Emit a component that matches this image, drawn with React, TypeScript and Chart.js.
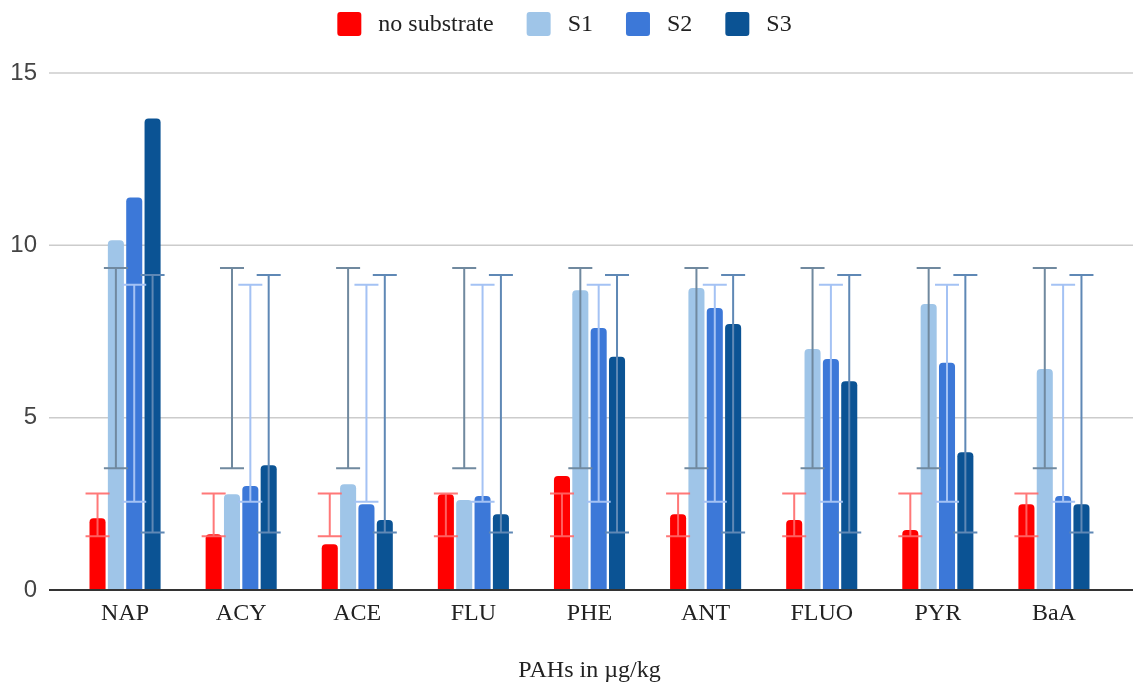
import React, { useEffect, useRef } from 'react';
import { Chart, registerables } from 'chart.js';

Chart.register(...registerables);

const categories = ['NAP', 'ACY', 'ACE', 'FLU', 'PHE', 'ANT', 'FLUO', 'PYR', 'BaA'];
const seriesLabels = ['no substrate', 'S1', 'S2', 'S3'];
const noSubstrate = [2.08, 1.62, 1.33, 2.78, 3.31, 2.2, 2.03, 1.74, 2.49];
const s1 = [10.15, 2.78, 3.07, 2.61, 8.7, 8.76, 6.99, 8.3, 6.41];
const s2 = [11.39, 3.02, 2.49, 2.73, 7.6, 8.18, 6.7, 6.59, 2.73];
const s3 = [13.68, 3.62, 2.03, 2.2, 6.77, 7.72, 6.06, 4.0, 2.49];
const errorLow = [1.56, 3.53, 2.56, 1.67];
const errorHigh = [2.8, 9.34, 8.86, 9.14];
const yMin = 0;
const yMax = 15;
const yStep = 5;
const axisTitle = 'PAHs in µg/kg';

const barColors = ['#ff0000', '#9fc5e8', '#3c78d8', '#0b5394'];
const errorColors = ['rgba(255,105,105,0.9)', '#70899f', '#a4c2f4', '#5f88b5'];

const serif = '"Liberation Serif", "Times New Roman", serif';
const sans = '"Liberation Sans", Arial, sans-serif';

const extGridPlugin = {
  id: 'extGrid',
  beforeDatasetsDraw(chart: any) {
    const { ctx, chartArea, scales } = chart;
    const y = scales.y;
    ctx.save();
    ctx.strokeStyle = '#cccccc';
    ctx.lineWidth = 1.5;
    for (const t of y.ticks) {
      if (t.value === 0) continue;
      const py = y.getPixelForValue(t.value);
      ctx.beginPath();
      ctx.moveTo(chartArea.left - 18, py);
      ctx.lineTo(chartArea.right + 21, py);
      ctx.stroke();
    }
    ctx.restore();
  },
  afterDatasetsDraw(chart: any) {
    const { ctx, chartArea, scales } = chart;
    const y = scales.y;
    ctx.save();
    // zero baseline
    const p0 = y.getPixelForValue(0);
    ctx.strokeStyle = '#333333';
    ctx.lineWidth = 2;
    ctx.beginPath();
    ctx.moveTo(chartArea.left - 18, p0);
    ctx.lineTo(chartArea.right + 21, p0);
    ctx.stroke();
    // error bars
    chart.data.datasets.forEach((ds: any, i: number) => {
      const meta = chart.getDatasetMeta(i);
      const lo = y.getPixelForValue(errorLow[i]);
      const hi = y.getPixelForValue(errorHigh[i]);
      ctx.strokeStyle = errorColors[i];
      ctx.lineWidth = 2;
      meta.data.forEach((el: any) => {
        const x = el.x;
        ctx.beginPath();
        ctx.moveTo(x, lo);
        ctx.lineTo(x, hi);
        ctx.moveTo(x - 12, lo);
        ctx.lineTo(x + 12, lo);
        ctx.moveTo(x - 12, hi);
        ctx.lineTo(x + 12, hi);
        ctx.stroke();
      });
    });
    ctx.restore();
  },
};

const customLegendPlugin = {
  id: 'customLegend',
  afterDraw(chart: any) {
    const { ctx } = chart;
    const box = 24;
    const gapText = 17;
    const gapItem = 33;
    ctx.save();
    ctx.font = `24px ${serif}`;
    const items = chart.data.datasets.map((ds: any) => ({
      label: ds.label as string,
      color: ds.backgroundColor as string,
      w: box + gapText + ctx.measureText(ds.label).width,
    }));
    const total = items.reduce((a: number, it: any) => a + it.w, 0) + gapItem * (items.length - 1);
    let x = chart.width / 2 - 5 - total / 2;
    const yc = 24;
    for (const it of items) {
      ctx.fillStyle = it.color;
      ctx.beginPath();
      if ((ctx as any).roundRect) {
        (ctx as any).roundRect(x, yc - box / 2, box, box, 3);
      } else {
        ctx.rect(x, yc - box / 2, box, box);
      }
      ctx.fill();
      ctx.fillStyle = '#222222';
      ctx.textBaseline = 'middle';
      ctx.textAlign = 'left';
      ctx.fillText(it.label, x + box + gapText, yc + 1);
      x += it.w + gapItem;
    }
    ctx.restore();
  },
};

export default function App() {
  const canvasRef = useRef<HTMLCanvasElement | null>(null);

  useEffect(() => {
    document.body.style.margin = '0';
    const canvas = canvasRef.current;
    if (!canvas) return;
    const seriesValues = [noSubstrate, s1, s2, s3];
    const chart = new Chart(canvas, {
      type: 'bar',
      data: {
        labels: categories,
        datasets: seriesLabels.map((label, i) => ({
          label,
          data: seriesValues[i],
          backgroundColor: barColors[i],
          borderWidth: 0,
          borderRadius: 4,
          categoryPercentage: 0.632,
          barPercentage: 0.875,
        })),
      },
      options: {
        responsive: false,
        animation: false,
        devicePixelRatio: 1,
        layout: { padding: { top: 73, right: 27, bottom: 0, left: 0 } },
        plugins: {
          legend: { display: false },
          tooltip: { enabled: false },
          title: { display: false },
        },
        scales: {
          x: {
            grid: { display: false, drawTicks: false },
            border: { display: false },
            ticks: {
              color: '#222222',
              font: { family: serif, size: 24 },
              padding: 9,
              maxRotation: 0,
            },
            title: {
              display: true,
              text: axisTitle,
              color: '#222222',
              font: { family: serif, size: 24 },
              padding: { top: 0, bottom: 1 },
            },
            afterFit(scale: any) {
              scale.height = 96;
            },
          },
          y: {
            min: yMin,
            max: yMax,
            grid: { display: false, drawTicks: false },
            border: { display: false },
            ticks: {
              stepSize: yStep,
              color: '#444444',
              font: { family: sans, size: 24 },
              padding: 30,
            },
            afterFit(scale: any) {
              scale.width = 67;
            },
          },
        },
      },
      plugins: [extGridPlugin, customLegendPlugin],
    });
    return () => chart.destroy();
  }, []);

  return (
    <div style={{ width: 1139, height: 686 }}>
      <canvas ref={canvasRef} width={1139} height={686} style={{ display: 'block' }} />
    </div>
  );
}
